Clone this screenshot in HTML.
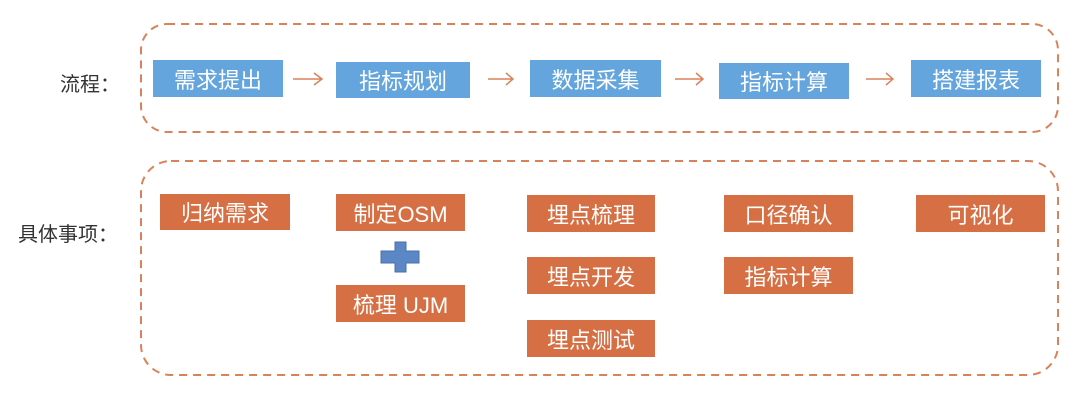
<!DOCTYPE html><html><head><meta charset="utf-8"><style>
body{margin:0;width:1078px;height:402px;background:#fff;position:relative;overflow:hidden;font-family:"Liberation Sans","Noto Sans CJK SC",sans-serif}
.b{position:absolute;color:#fff;font-size:22px;display:flex;align-items:center;justify-content:center;box-sizing:border-box}
.bl{background:#63a5dc}.or{background:#d66f43}
.l{position:absolute;font-size:20px;color:#333}
</style></head><body>
<svg width="1078" height="402" style="position:absolute;left:0;top:0">
<rect x="141" y="24" width="917" height="108" rx="26" fill="none" stroke="#d9825a" stroke-width="2" stroke-dasharray="8,6"/>
<rect x="141" y="161" width="917" height="214" rx="30" fill="none" stroke="#d9825a" stroke-width="2" stroke-dasharray="8,6"/>
<g stroke="#d9825a" stroke-width="1.5" fill="none">
<path d="M293 79H322M314 73L322 79L314 85"/>
<path d="M488 79H513M506 73L513 79L506 85"/>
<path d="M675 79H703M696 73L703 79L696 85"/>
<path d="M866 79H893M886 73L893 79L886 85"/>
</g>
<path d="M395 242H406V251H419V263H406V272H395V263H381V251H395Z" fill="#5b87c4" stroke="#4a72a8"/>
</svg>
<div class="l" style="left:60px;top:68px">流程：</div>
<div class="l" style="left:18px;top:218px">具体事项：</div>
<div class="b bl" style="left:153px;top:60px;width:130px;height:37px">需求提出</div>
<div class="b bl" style="left:336px;top:62px;width:134px;height:36px">指标规划</div>
<div class="b bl" style="left:530px;top:60px;width:131px;height:37px">数据采集</div>
<div class="b bl" style="left:719px;top:63px;width:130px;height:36px">指标计算</div>
<div class="b bl" style="left:911px;top:60px;width:130px;height:37px">搭建报表</div>
<div class="b or" style="left:160px;top:194px;width:130px;height:36px">归纳需求</div>
<div class="b or" style="left:336px;top:194px;width:129px;height:37px">制定OSM</div>
<div class="b or" style="left:336px;top:285px;width:129px;height:37px">梳理 UJM</div>
<div class="b or" style="left:527px;top:195px;width:128px;height:37px">埋点梳理</div>
<div class="b or" style="left:527px;top:257px;width:128px;height:37px">埋点开发</div>
<div class="b or" style="left:527px;top:320px;width:128px;height:37px">埋点测试</div>
<div class="b or" style="left:724px;top:195px;width:129px;height:37px">口径确认</div>
<div class="b or" style="left:724px;top:257px;width:129px;height:37px">指标计算</div>
<div class="b or" style="left:916px;top:195px;width:129px;height:37px">可视化</div>
</body></html>
